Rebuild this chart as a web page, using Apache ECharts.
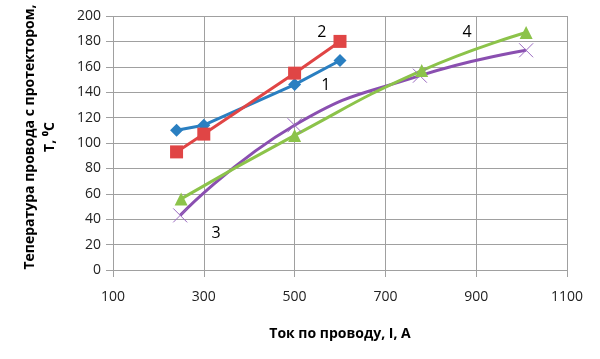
<!DOCTYPE html>
<html><head><meta charset="utf-8">
<script src="https://cdn.jsdelivr.net/npm/echarts@6/dist/echarts.min.js"></script>
<style>html,body{margin:0;padding:0;background:#fff}#c{width:600px;height:359px}</style>
</head><body><div id="c"></div>
<script>
const xTicks = [100, 300, 500, 700, 900, 1100];
const s1 = [[240, 110], [300, 114], [500, 146], [600, 165]];
const s2 = [[240, 93], [300, 107], [500, 155], [600, 180]];
const s3 = [[248, 43], [500, 114], [776, 153], [1010, 173]];
const s4 = [[250, 56], [500, 106], [780, 157], [1010, 187]];
const labelNames = ['1', '2', '3', '4'];
const labelPos = [[569, 145], [560, 187], [327, 29], [880, 187]];
const yTitle = 'Тепература провода с протектором,\nT, ⁰C';
const xTitle = 'Ток по проводу, I, A';

const font = '"Open Sans", "Liberation Sans", sans-serif';
const chart = echarts.init(document.getElementById('c'), null, {renderer: 'canvas'});
function lbl(i) {
  return {
    symbol: 'circle', symbolSize: 0, silent: true,
    data: [{coord: labelPos[i], label: {show: true, formatter: labelNames[i], position: 'inside',
      color: '#000', fontSize: 16, fontFamily: font}}]
  };
}
chart.setOption({
  animation: false,
  graphic: [{
    type: 'text', x: 40, y: 137, rotation: Math.PI / 2,
    style: {text: yTitle, textAlign: 'center', textVerticalAlign: 'middle',
      fontWeight: 'bold', fontSize: 14, fill: '#000', fontFamily: font, lineHeight: 20}
  }],
  grid: {left: 113, right: 33, top: 16, bottom: 89},
  xAxis: {
    type: 'value', min: 100, max: 1100, interval: 200,
    name: xTitle, nameLocation: 'middle', nameGap: 57,
    nameTextStyle: {fontWeight: 'bold', fontSize: 14, color: '#000', fontFamily: font},
    axisLine: {show: false},
    axisTick: {show: true, length: 7, lineStyle: {color: '#a0a0a0', width: 1}},
    splitLine: {show: true, lineStyle: {color: '#a0a0a0', width: 1}},
    axisLabel: {fontSize: 14, color: '#222', margin: 20, fontFamily: font,
      formatter: function (v) { return xTicks.indexOf(v) >= 0 ? String(v) : ''; }}
  },
  yAxis: {
    type: 'value', min: 0, max: 200, interval: 20,
    axisLine: {show: false},
    axisTick: {show: true, length: 7, lineStyle: {color: '#a0a0a0', width: 1}},
    splitLine: {show: true, lineStyle: {color: '#a0a0a0', width: 1}},
    axisLabel: {fontSize: 14, color: '#222', margin: 12, fontFamily: font}
  },
  series: [
    {type: 'line', data: s1, symbol: 'diamond', symbolSize: 13,
     lineStyle: {color: '#2a7fc1', width: 3}, itemStyle: {color: '#2a7fc1'}, markPoint: lbl(0)},
    {type: 'line', data: s2, symbol: 'rect', symbolSize: 13,
     lineStyle: {color: '#e04545', width: 3}, itemStyle: {color: '#e04545'}, markPoint: lbl(1)},
    {type: 'line', data: s3, smooth: true, symbol: 'path://M0,0L10,10M10,0L0,10', symbolSize: 14,
     lineStyle: {color: '#8a4fb0', width: 3},
     itemStyle: {color: 'rgba(0,0,0,0)', borderColor: '#9a6ac0', borderWidth: 1}, markPoint: lbl(2)},
    {type: 'line', data: s4, smooth: true, symbol: 'triangle', symbolSize: 13,
     lineStyle: {color: '#8cc34a', width: 3}, itemStyle: {color: '#8cc34a'}, markPoint: lbl(3)}
  ]
});
</script></body></html>
